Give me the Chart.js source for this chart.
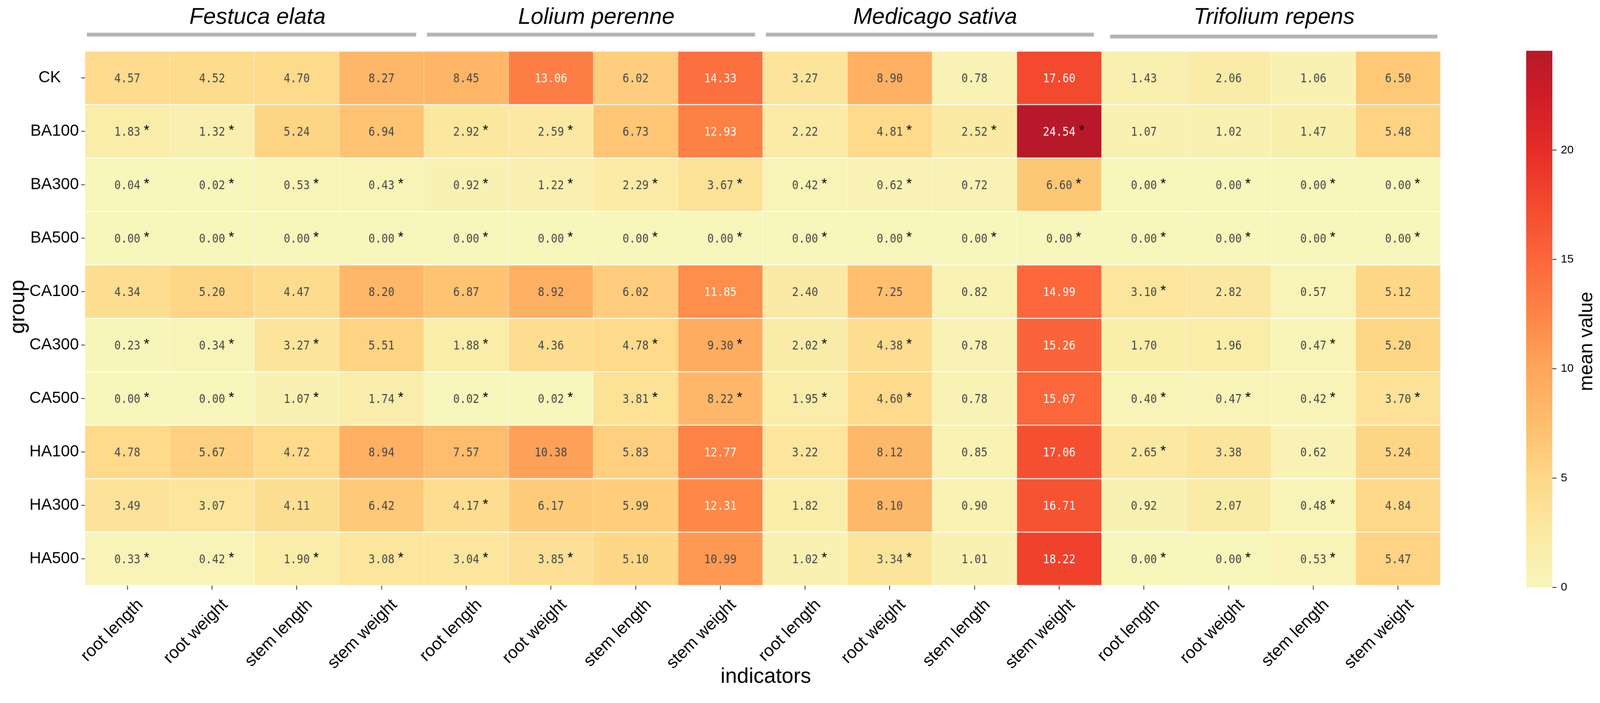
<!DOCTYPE html>
<html>
<head>
<meta charset="utf-8">
<script src="https://cdn.jsdelivr.net/npm/chart.js@4/dist/chart.umd.min.js"></script>
<style>
html,body{margin:0;padding:0;background:#fff;overflow:hidden;}
#wrap{position:absolute;left:0;top:0;width:4161px;height:1800px;transform-origin:0 0;}
canvas{display:block;}
</style>
</head>
<body>
<div id="wrap"><canvas id="c" width="4161" height="1800" style="width:4161px;height:1800px"></canvas></div>
<script>
// ---------- data ----------
const groups = ['CK','BA100','BA300','BA500','CA100','CA300','CA500','HA100','HA300','HA500'];
const species = ['Festuca elata','Lolium perenne','Medicago sativa','Trifolium repens'];
const traits = ['root length','root weight','stem length','stem weight'];
const indicators = species.flatMap(() => traits);

const meanCK    = [4.57,4.52,4.70,8.27, 8.45,13.06,6.02,14.33, 3.27,8.90,0.78,17.60, 1.43,2.06,1.06,6.50];
const meanBA100 = [1.83,1.32,5.24,6.94, 2.92,2.59,6.73,12.93, 2.22,4.81,2.52,24.54, 1.07,1.02,1.47,5.48];
const meanBA300 = [0.04,0.02,0.53,0.43, 0.92,1.22,2.29,3.67, 0.42,0.62,0.72,6.60, 0.00,0.00,0.00,0.00];
const meanBA500 = [0.00,0.00,0.00,0.00, 0.00,0.00,0.00,0.00, 0.00,0.00,0.00,0.00, 0.00,0.00,0.00,0.00];
const meanCA100 = [4.34,5.20,4.47,8.20, 6.87,8.92,6.02,11.85, 2.40,7.25,0.82,14.99, 3.10,2.82,0.57,5.12];
const meanCA300 = [0.23,0.34,3.27,5.51, 1.88,4.36,4.78,9.30, 2.02,4.38,0.78,15.26, 1.70,1.96,0.47,5.20];
const meanCA500 = [0.00,0.00,1.07,1.74, 0.02,0.02,3.81,8.22, 1.95,4.60,0.78,15.07, 0.40,0.47,0.42,3.70];
const meanHA100 = [4.78,5.67,4.72,8.94, 7.57,10.38,5.83,12.77, 3.22,8.12,0.85,17.06, 2.65,3.38,0.62,5.24];
const meanHA300 = [3.49,3.07,4.11,6.42, 4.17,6.17,5.99,12.31, 1.82,8.10,0.90,16.71, 0.92,2.07,0.48,4.84];
const meanHA500 = [0.33,0.42,1.90,3.08, 3.04,3.85,5.10,10.99, 1.02,3.34,1.01,18.22, 0.00,0.00,0.53,5.47];

// significance marks (1 = "*")
const sigCK    = [0,0,0,0, 0,0,0,0, 0,0,0,0, 0,0,0,0];
const sigBA100 = [1,1,0,0, 1,1,0,0, 0,1,1,1, 0,0,0,0];
const sigBA300 = [1,1,1,1, 1,1,1,1, 1,1,0,1, 1,1,1,1];
const sigBA500 = [1,1,1,1, 1,1,1,1, 1,1,1,1, 1,1,1,1];
const sigCA100 = [0,0,0,0, 0,0,0,0, 0,0,0,0, 1,0,0,0];
const sigCA300 = [1,1,1,0, 1,0,1,1, 1,1,0,0, 0,0,1,0];
const sigCA500 = [1,1,1,1, 1,1,1,1, 1,1,0,0, 1,1,1,1];
const sigHA100 = [0,0,0,0, 0,0,0,0, 0,0,0,0, 1,0,0,0];
const sigHA300 = [0,0,0,0, 1,0,0,0, 0,0,0,0, 0,0,1,0];
const sigHA500 = [1,1,1,1, 1,1,0,0, 1,1,0,0, 1,1,1,0];

const colorbarTicks = [0,5,10,15,20];

const meanRows = [meanCK,meanBA100,meanBA300,meanBA500,meanCA100,meanCA300,meanCA500,meanHA100,meanHA300,meanHA500];
const sigRows  = [sigCK,sigBA100,sigBA300,sigBA500,sigCA100,sigCA300,sigCA500,sigHA100,sigHA300,sigHA500];

// ---------- fit page to window ----------
(function(){
  const s = Math.min(window.innerWidth / 4161, window.innerHeight / 1800);
  if (Math.abs(s - 1) > 0.001) document.getElementById('wrap').style.transform = `scale(${s})`;
})();

// ---------- style ----------
const vmin = 0;
const vmax = Math.max(...meanRows.flat());
const colorStops = [
  [0.00,[247,246,187]],
  [0.10,[251,234,164]],
  [0.20,[254,217,137]],
  [0.30,[254,191,110]],
  [0.41,[254,165,91]],
  [0.51,[253,133,70]],
  [0.61,[252,103,60]],
  [0.71,[244,75,47]],
  [0.815,[230,44,40]],
  [0.92,[206,29,40]],
  [1.00,[184,25,42]]
];
function colorFor(v){
  const t = Math.max(0, Math.min(1, (v - vmin) / (vmax - vmin)));
  for (let i = 1; i < colorStops.length; i++){
    const [t1,c1] = colorStops[i-1], [t2,c2] = colorStops[i];
    if (t <= t2){
      const f = (t - t1) / (t2 - t1);
      const c = c1.map((a,k) => Math.round(a + (c2[k]-a)*f));
      return `rgb(${c[0]},${c[1]},${c[2]})`;
    }
  }
  const c = colorStops[colorStops.length-1][1];
  return `rgb(${c[0]},${c[1]},${c[2]})`;
}
const SANS = "'Liberation Sans', Arial, sans-serif";
const MONO = "'DejaVu Sans Mono', 'Liberation Mono', monospace";

// ---------- datasets: one per group row, floating bars [row, row+1] ----------
const datasets = groups.map((g, r) => ({
  label: g,
  data: meanRows[r].map(() => [r, r + 1]),
  backgroundColor: meanRows[r].map(v => colorFor(v)),
  borderColor: '#ffffff',
  borderWidth: {top: 1.5, bottom: 1.5, left: 0.6, right: 0.6},
  borderSkipped: false,
  barPercentage: 1,
  categoryPercentage: 1,
  grouped: false
}));

const decorPlugin = {
  id: 'decor',
  afterDatasetsDraw(chart){
    const ctx = chart.ctx;
    const xs = chart.scales.x;
    const ca = chart.chartArea;
    const half = (xs.getPixelForValue(1) - xs.getPixelForValue(0)) / 2;
    const sx = 0.88;

    // cell labels
    chart.data.datasets.forEach((ds, r) => {
      const meta = chart.getDatasetMeta(r);
      meta.data.forEach((el, c) => {
        const v = meanRows[r][c];
        const cx = el.x;
        const cy = (el.y + el.base) / 2;
        const txt = v.toFixed(2);
        ctx.save();
        ctx.translate(cx, cy + 11.5);
        ctx.scale(sx, 1);
        ctx.font = `32px ${MONO}`;
        ctx.textAlign = 'center';
        ctx.textBaseline = 'alphabetic';
        ctx.fillStyle = v > 11.5 ? '#ffffff' : '#474747';
        ctx.fillText(txt, 0, 0);
        const w = ctx.measureText(txt).width * sx;
        ctx.restore();
        if (sigRows[r][c]){
          ctx.save();
          ctx.font = `37px ${SANS}`;
          ctx.textAlign = 'left';
          ctx.textBaseline = 'alphabetic';
          ctx.fillStyle = '#000000';
          ctx.fillText('*', cx + w/2 + 9, cy + 9);
          ctx.restore();
        }
      });
    });

    // species headers
    ctx.save();
    species.forEach((s, g) => {
      const left = xs.getPixelForValue(4*g) - half;
      const right = xs.getPixelForValue(4*g + 3) + half;
      const yBar = g === 3 ? 90 : 85;
      const insetL = g === 0 ? 5 : g === 3 ? 22 : 8;
      const insetR = g === 3 ? 8 : 20;
      ctx.fillStyle = '#b4b4b4';
      ctx.fillRect(left + insetL, yBar, (right - left) - insetL - insetR, 10);
      ctx.fillStyle = '#000000';
      ctx.font = `italic 59px ${SANS}`;
      ctx.textAlign = 'center';
      ctx.textBaseline = 'alphabetic';
      ctx.fillText(s, (left + right)/2 + 8, 62);
    });
    ctx.restore();

    // axis titles
    ctx.save();
    ctx.fillStyle = '#000';
    ctx.font = `55px ${SANS}`;
    ctx.textAlign = 'center';
    ctx.textBaseline = 'alphabetic';
    ctx.fillText('indicators', (ca.left + ca.right)/2 + 8, 1776);
    ctx.translate(48, (ca.top + ca.bottom)/2 - 30);
    ctx.rotate(-Math.PI/2);
    ctx.textBaseline = 'middle';
    ctx.fillText('group', 0, 0);
    ctx.restore();

    // colour bar
    ctx.save();
    const cbL = 3969, cbR = 4037;
    const cbBottom = ca.bottom + 5, cbTop = ca.top - 1;
    const valToY = v => cbBottom - (v - vmin) / (vmax - vmin) * (cbBottom - cbTop);
    const grad = ctx.createLinearGradient(0, cbBottom, 0, cbTop);
    colorStops.forEach(([t, c]) => grad.addColorStop(t, `rgb(${c[0]},${c[1]},${c[2]})`));
    ctx.fillStyle = grad;
    ctx.fillRect(cbL, cbTop, cbR - cbL, cbBottom - cbTop);
    ctx.strokeStyle = '#222';
    ctx.lineWidth = 2;
    ctx.fillStyle = '#000';
    ctx.font = `30px ${SANS}`;
    ctx.textAlign = 'left';
    ctx.textBaseline = 'middle';
    colorbarTicks.forEach(t => {
      const y = valToY(t);
      ctx.beginPath();
      ctx.moveTo(cbR, y);
      ctx.lineTo(cbR + 11, y);
      ctx.stroke();
      ctx.fillText(String(t), cbR + 22, y);
    });
    ctx.translate(4127, 888);
    ctx.rotate(-Math.PI/2);
    ctx.font = `50px ${SANS}`;
    ctx.textAlign = 'center';
    ctx.textBaseline = 'middle';
    ctx.fillText('mean value', 0, 0);
    ctx.restore();
  }
};

new Chart(document.getElementById('c'), {
  type: 'bar',
  data: { labels: indicators, datasets },
  options: {
    responsive: false,
    devicePixelRatio: 1,
    animation: false,
    layout: { padding: { top: 133, right: 415, left: 0, bottom: 0 } },
    plugins: { legend: { display: false }, tooltip: { enabled: false } },
    scales: {
      x: {
        type: 'category',
        offset: true,
        grid: { display: true, drawOnChartArea: false, drawTicks: true, tickLength: 11, tickWidth: 2, color: '#333', offset: false },
        border: { display: false },
        ticks: { color: '#000', font: { family: SANS, size: 44 }, maxRotation: 45, minRotation: 45, padding: 14, labelOffset: 34, autoSkip: false },
        afterFit(scale){ scale.height = 277; }
      },
      y: {
        type: 'linear',
        min: 0,
        max: groups.length,
        reverse: true,
        grid: { display: true, drawOnChartArea: false, drawTicks: true, tickLength: 10, tickWidth: 2, color: '#333' },
        border: { display: false },
        afterBuildTicks(scale){ scale.ticks = groups.map((g, i) => ({ value: i + 0.5 })); },
        ticks: { color: '#000', font: { family: SANS, size: 42 }, padding: 6, autoSkip: false,
                 callback: (val, idx) => groups[idx].length < 5 ? groups[idx] + '    ' : groups[idx] },
        afterFit(scale){ scale.width = 221; }
      }
    }
  },
  plugins: [decorPlugin]
});
</script>
</body>
</html>
